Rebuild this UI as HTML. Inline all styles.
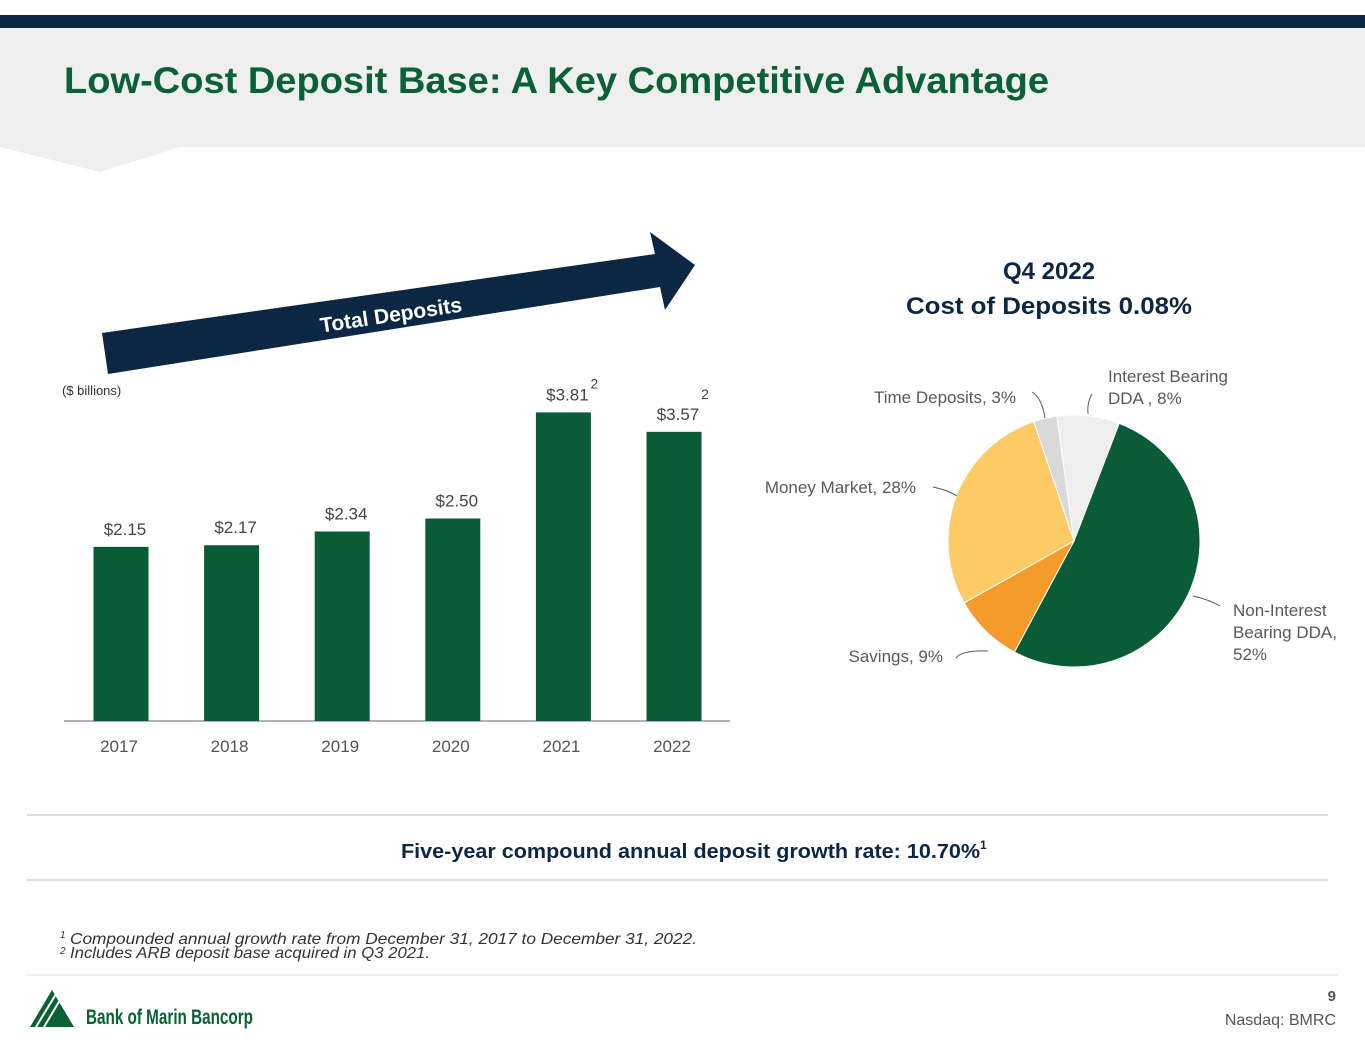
<!DOCTYPE html>
<html><head><meta charset="utf-8"><style>
body{margin:0;width:1365px;height:1055px;background:#fff;position:relative;overflow:hidden;font-family:"Liberation Sans",sans-serif}
.abs{position:absolute}
</style></head><body>
<div class="abs" style="left:0;top:15px;width:1365px;height:13px;background:#0c2743"></div>
<svg class="abs" style="left:0;top:28px" width="1365" height="150">
<polygon points="0,0 1365,0 1365,119 180,119 100,144 0,119" fill="#efefef"/></svg>
<svg class="abs" style="left:0;top:0" width="1365" height="1055" id="main">
<text x="64" y="93" font-size="37" font-weight="bold" fill="#0a6135" textLength="985" lengthAdjust="spacingAndGlyphs">Low-Cost Deposit Base: A Key Competitive Advantage</text>
<polygon points="102,333 655,254 650,232 695,265 665,310 660,287 108,374" fill="#0c2743"/>
<text x="392" y="322" transform="rotate(-8.5 392 322)" text-anchor="middle" font-family="Liberation Sans,sans-serif" font-weight="bold" font-size="21" fill="#fff">Total Deposits</text>
<text x="62" y="395" font-size="13" fill="#333">($ billions)</text>
<line x1="64" y1="721" x2="730" y2="721" stroke="#999" stroke-width="1.5"/>
<g id="bars"></g><g id="pie"></g>
<text x="1049" y="279" text-anchor="middle" font-size="24" font-weight="bold" fill="#0c2743">Q4 2022</text>
<text x="906" y="314" font-size="24" font-weight="bold" fill="#0c2743" textLength="286" lengthAdjust="spacingAndGlyphs">Cost of Deposits 0.08%</text>
<line x1="27" y1="815" x2="1328" y2="815" stroke="#bbb"/>
<line x1="27" y1="880" x2="1328" y2="880" stroke="#bbb"/>
<text x="401" y="858" font-size="20" font-weight="bold" fill="#0c2743"><tspan textLength="579" lengthAdjust="spacingAndGlyphs">Five-year compound annual deposit growth rate: 10.70%</tspan><tspan font-size="12" dy="-9">1</tspan></text>
<text x="60" y="944" font-size="16" font-style="italic" fill="#333"><tspan font-size="10" dy="-6">1</tspan><tspan x="70" dy="6" textLength="627" lengthAdjust="spacingAndGlyphs">Compounded annual growth rate from December 31, 2017 to December 31, 2022.</tspan></text>
<text x="60" y="958" font-size="16" font-style="italic" fill="#333"><tspan font-size="10" dy="-4">2</tspan><tspan x="70" dy="4" textLength="360" lengthAdjust="spacingAndGlyphs">Includes ARB deposit base acquired in Q3 2021.</tspan></text>
<line x1="27" y1="975" x2="1338" y2="975" stroke="#ddd"/>
<g>
<polygon points="30,1027 52,990 74,1027" fill="#0a6135"/>
<g stroke="#fff" stroke-width="2"><line x1="36" y1="1027" x2="56" y2="994"/><line x1="44" y1="1027" x2="60" y2="1000"/></g>
<text x="86" y="1024" font-size="21" font-weight="bold" fill="#0a6135" textLength="167" lengthAdjust="spacingAndGlyphs">Bank of Marin Bancorp</text></g>
<text x="1336" y="1001" text-anchor="end" font-size="15" font-weight="bold" fill="#555">9</text>
<text x="1336" y="1025" text-anchor="end" font-size="16" fill="#555">Nasdaq: BMRC</text>
</svg>
<script>
const years=["2017","2018","2019","2020","2021","2022"];
const deposits=[2.15,2.17,2.34,2.50,3.81,3.57];
const valueLabels=["$2.15","$2.17","$2.34","$2.50","$3.81","$3.57"];
const footMark=["","","","","2","2"];
const sliceNames=["Non-Interest Bearing DDA","Savings","Money Market","Time Deposits","Interest Bearing DDA"];
const slicePct=[52,9,28,3,8];
const NS="http://www.w3.org/2000/svg";
function mk(t,a,p){const e=document.createElementNS(NS,t);for(const k in a)e.setAttribute(k,a[k]);p.appendChild(e);return e;}
const x=i=>121+i*110.6, y=v=>721-v*81;
const bg=document.getElementById('bars');
years.forEach((yr,i)=>{
 const r=mk('rect',{x:x(i)-27.5,y:y(deposits[i]),width:55,height:721-y(deposits[i]),fill:'#0a5c36'},bg);
 
 
 const t=mk('text',{x:x(i)+4,y:y(deposits[i])-12,'text-anchor':'middle','font-size':17,fill:'#444'},bg);t.textContent=valueLabels[i];
 
 
 if(footMark[i]){const f=mk('text',{x:x(i)+31,y:y(deposits[i])-(i==4?24:33),'text-anchor':'middle','font-size':14,fill:'#444'},bg);f.textContent=footMark[i];}
 const l=mk('text',{x:x(i)-2,y:752,'text-anchor':'middle','font-size':17,fill:'#555'},bg);l.textContent=yr;
 
 
});
const pg=document.getElementById('pie');
const colors=['#0a5c36','#f59b2b','#fccb66','#d9d9d9','#eeeeee'];
const cx=1074,cy=541,R=126;
const pt=(a,r)=>[cx+r*Math.sin(a*Math.PI/180),cy-r*Math.cos(a*Math.PI/180)];
let a0=21;const tot=slicePct.reduce((s,v)=>s+v,0);
slicePct.forEach((v,i)=>{
 const a1=a0+v/tot*360;const p0=pt(a0,R),p1=pt(a1,R);
 const s=mk('path',{d:`M${cx},${cy}L${p0[0]},${p0[1]}A${R},${R} 0 ${a1-a0>180?1:0} 1 ${p1[0]},${p1[1]}Z`,fill:colors[i],stroke:'#fff','stroke-width':1},pg);
 
 
 a0=a1;
});
const labs=[[1233,616,'start',["Non-Interest","Bearing DDA,","52%"]],[943,662,'end',["Savings, 9%"]],[916,493,'end',["Money Market, 28%"]],[1016,403,'end',["Time Deposits, 3%"]],[1108,382,'start',["Interest Bearing","DDA , 8%"]]];
labs.forEach((L,i)=>{
 const t=mk('text',{x:L[0],y:L[1],'text-anchor':L[2],'font-size':17,fill:'#595959'},pg);
 
 
 L[3].forEach((s,j)=>{const ts=mk('tspan',{x:L[0],dy:j?22:0},t);ts.textContent=s;});
});
const leaders=["M1193,596 Q1210,600 1220,606","M988,651 Q962,650 956,658","M933,487 Q948,490 957,496","M1032,392 Q1042,398 1045,418","M1092,394 Q1087,402 1088,414"];
leaders.forEach(d=>mk('path',{d,fill:'none',stroke:'#595959','stroke-width':1},pg));
</script>
</body></html>
